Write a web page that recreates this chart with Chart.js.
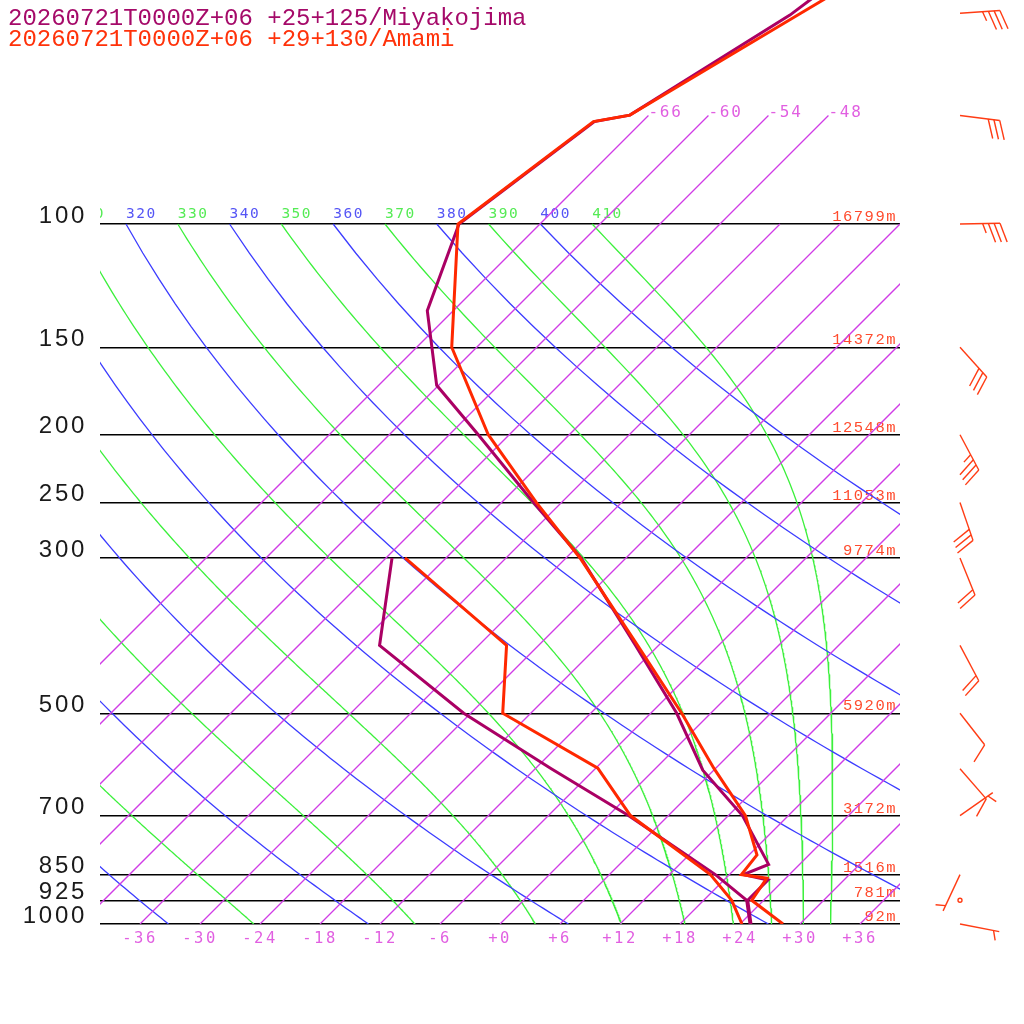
<!DOCTYPE html>
<html>
<head>
<meta charset="utf-8">
<script src="https://cdn.jsdelivr.net/npm/chart.js@4.4.1/dist/chart.umd.min.js"></script>
<style>
html,body{margin:0;padding:0;background:#fff;}
#wrap{position:relative;width:1024px;height:1024px;overflow:hidden;background:#fff;}
#c{position:absolute;left:0;top:0;}
.title{position:absolute;left:8px;font-family:"Liberation Mono",monospace;font-size:24px;line-height:24px;white-space:pre;}
</style>
</head>
<body>
<div id="wrap">
<canvas id="c" width="1024" height="1024"></canvas>
<div class="title" style="top:7px;color:rgb(165,10,105)">20260721T0000Z+06 +25+125/Miyakojima</div>
<div class="title" style="top:28px;color:rgb(255,50,10)">20260721T0000Z+06 +29+130/Amami</div>
</div>
<script>
// ---------------- data ----------------
const pressureTicks = [100, 150, 200, 250, 300, 500, 700, 850, 925, 1000];
const heightLabels = ['16799m', '14372m', '12548m', '11053m', '9774m', '5920m', '3172m', '1516m', '781m', '92m'];
const tempTicks = [-36, -30, -24, -18, -12, -6, 0, 6, 12, 18, 24, 30, 36];
const isothermTemps = [-66, -60, -54, -48, -42, -36, -30, -24, -18, -12, -6, 0, 6, 12, 18, 24, 30, 36];
const isothermLabelTemps = [-66, -60, -54, -48];
const dryThetas = [240, 260, 280, 300, 320, 340, 360, 380, 400];
const moistThetas = [250, 270, 290, 310, 330, 350, 370, 390, 410];
const thetaLabels = [300, 310, 320, 330, 340, 350, 360, 370, 380, 390, 400, 410];

// Miyakojima (purple)
const miyakoP  = [1000, 925, 865, 850, 822, 700, 603, 500, 400, 300, 250, 200, 170, 133, 100, 71.4, 69.9, 50.3, 30];
const miyakoT  = [25.1, 22.4, 22.4, 19.4, 20.9, 13.4, 4.9, -3.4, -14.3, -28.5, -38.8, -51.1, -60.2, -68.6, -74.1, -70.8, -67.9, -61.9, -56.7];
const miyakoTdP = [1000, 925, 850, 700, 600, 500, 400, 300];
const miyakoTd  = [25.0, 22.3, 16.6, 2.0, -10.4, -24.7, -39.9, -47.4];

// Amami (red)
const amamiP  = [1000, 925, 860, 850, 797, 700, 599, 500, 400, 300, 250, 200, 150, 100, 71.4, 69.9, 50, 30];
const amamiT  = [28.3, 22.8, 22.1, 19.2, 18.8, 13.7, 5.8, -2.9, -14.1, -28.6, -38.5, -50.1, -62.5, -74.2, -70.9, -67.9, -61.0, -50.5];
const amamiTdP = [1000, 925, 850, 700, 599, 500, 400, 300];
const amamiTd  = [24.2, 20.8, 16.1, 2.2, -5.8, -20.8, -27.2, -46.1];

// Amami winds
const windP   = [50, 70, 100, 150, 200, 250, 300, 400, 500, 600, 700, 850, 925, 1000];
const windDir = [86, 97, 89, 138, 152, 161, 158, 152, 142, 139, 55, 205, 0, 101];
const windSpd = [35, 30, 35, 30, 35, 30, 20, 20, 10, 10, 5, 5, 0, 5];

// ---------------- physics / skew ----------------
const SKEW = 70;             // degrees of x shift per decade of pressure
const KAPPA = 0.2857;
const Rd = 287.04, CP = 1005.7, LV = 2.501e6, EPS = 0.622;
const P_TOP = 1000 * Math.pow(10, -924 / 700);

function skewX(t, p) { return t + SKEW * Math.log10(1000 / p); }
function pt(t, p) { return { x: skewX(t, p), y: p }; }

function satMix(T, p) {
  const tc = T - 273.15;
  const es = 6.112 * Math.exp(17.67 * tc / (tc + 243.5));
  return EPS * es / (p - es);
}
function moistLapse(T, p) {
  const rs = satMix(T, p);
  return (Rd * T + LV * rs) / (p * (CP + LV * LV * rs * EPS / (Rd * T * T)));
}
function dryLine(theta) {
  const out = [];
  for (let p = 100; p <= 1000.001; p += 10) out.push(pt(theta * Math.pow(p / 1000, KAPPA) - 273.15, p));
  return out;
}
function moistLine(theta) {
  let p = 100, T = theta * Math.pow(0.1, KAPPA);
  const out = [pt(T - 273.15, p)];
  const h = 2.5;
  while (p < 1000 - 1e-9) {
    const k1 = moistLapse(T, p);
    const k2 = moistLapse(T + h * k1 / 2, p + h / 2);
    const k3 = moistLapse(T + h * k2 / 2, p + h / 2);
    const k4 = moistLapse(T + h * k3, p + h);
    T += h * (k1 + 2 * k2 + 2 * k3 + k4) / 6;
    p += h;
    out.push(pt(T - 273.15, p));
  }
  return out;
}

// ---------------- styles ----------------
const RED = 'rgb(255,40,0)';
const PURPLE = 'rgb(170,0,100)';
const ISO_C = 'rgb(208,60,230)';
const DRY_C = 'rgb(60,60,255)';
const MOIST_C = 'rgb(60,240,60)';
const GRID_W = 1.3;

const base = { showLine: true, pointRadius: 0, pointHoverRadius: 0, fill: false, tension: 0, clip: 0 };
const datasets = [];

datasets.push(Object.assign({}, base, { label: 'Amami T', data: amamiT.map((t, i) => pt(t, amamiP[i])), borderColor: RED, borderWidth: 3, order: 0 }));
datasets.push(Object.assign({}, base, { label: 'Amami Td', data: amamiTd.map((t, i) => pt(t, amamiTdP[i])), borderColor: RED, borderWidth: 3, order: 0 }));
datasets.push(Object.assign({}, base, { label: 'Miyakojima T', data: miyakoT.map((t, i) => pt(t, miyakoP[i])), borderColor: PURPLE, borderWidth: 3, order: 1 }));
datasets.push(Object.assign({}, base, { label: 'Miyakojima Td', data: miyakoTd.map((t, i) => pt(t, miyakoTdP[i])), borderColor: PURPLE, borderWidth: 3, order: 1 }));

isothermTemps.forEach(t => {
  const top = isothermLabelTemps.includes(t) ? 70 : 100;
  datasets.push(Object.assign({}, base, { label: 'T' + t, data: [pt(t, 1000), pt(t, top)], borderColor: ISO_C, borderWidth: GRID_W, order: 10 }));
});
dryThetas.forEach(th => {
  datasets.push(Object.assign({}, base, { label: 'th' + th, data: dryLine(th), borderColor: DRY_C, borderWidth: GRID_W, order: 10 }));
});
moistThetas.forEach(th => {
  datasets.push(Object.assign({}, base, { label: 'the' + th, data: moistLine(th), borderColor: MOIST_C, borderWidth: GRID_W, order: 10 }));
});

// ---------------- plugins ----------------
function drawBarb(ctx, x0, y0, dir, spd) {
  if (spd < 2.5) {
    ctx.beginPath(); ctx.arc(x0, y0, 2, 0, Math.PI * 2); ctx.stroke();
    return;
  }
  const r = dir * Math.PI / 180;
  const ux = Math.sin(r), uy = -Math.cos(r);
  const L = 40, sp = 5.8, fl = 20;
  const tx = x0 + ux * L, ty = y0 + uy * L;
  ctx.beginPath(); ctx.moveTo(x0, y0); ctx.lineTo(tx, ty); ctx.stroke();
  const a = 70 * Math.PI / 180;
  const bx = ux * Math.cos(a) - uy * Math.sin(a);
  const by = ux * Math.sin(a) + uy * Math.cos(a);
  let n10 = Math.floor(spd / 10);
  let n5 = Math.round((spd - n10 * 10) / 5);
  let pos = (n10 === 0) ? 1 : 0;
  for (let i = 0; i < n10; i++, pos++) {
    const sx = tx - ux * sp * pos, sy = ty - uy * sp * pos;
    ctx.beginPath(); ctx.moveTo(sx, sy); ctx.lineTo(sx + bx * fl, sy + by * fl); ctx.stroke();
  }
  if (n5) {
    const sx = tx - ux * sp * pos, sy = ty - uy * sp * pos;
    ctx.beginPath(); ctx.moveTo(sx, sy); ctx.lineTo(sx + bx * fl / 2, sy + by * fl / 2); ctx.stroke();
  }
}

// give a scale its own letter spacing for its tick labels
function spaceLabels(s, spacing) {
  if (s.__spaced) return;
  const orig = s.drawLabels;
  s.drawLabels = function (ca) {
    const prev = this.ctx.letterSpacing;
    this.ctx.letterSpacing = spacing;
    orig.call(this, ca);
    this.ctx.letterSpacing = prev || '0px';
  };
  s.__spaced = true;
}

const labelPlugin = {
  id: 'skewLabels',
  beforeDatasetsDraw(chart) {
    const ctx = chart.ctx, xs = chart.scales.x, ys = chart.scales.y, ca = chart.chartArea;
    ctx.save();
    ctx.beginPath(); ctx.rect(ca.left, ca.top, ca.right - ca.left, ca.bottom - ca.top); ctx.clip();
    ctx.textBaseline = 'alphabetic';
    // theta labels at 100 hPa
    ctx.font = '14.5px "DejaVu Sans Mono"';
    ctx.letterSpacing = '1.5px';
    ctx.textAlign = 'left';
    thetaLabels.forEach(th => {
      const x = xs.getPixelForValue(skewX(th * Math.pow(0.1, KAPPA) - 273.15, 100));
      const y = ys.getPixelForValue(100) - 6;
      ctx.fillStyle = dryThetas.includes(th) ? 'rgb(85,85,245)' : 'rgb(85,235,85)';
      ctx.fillText(String(th), x, y);
    });
    // isotherm labels at 70 hPa
    ctx.font = '16px "DejaVu Sans Mono"';
    ctx.letterSpacing = '1.8px';
    ctx.fillStyle = 'rgb(225,95,225)';
    isothermLabelTemps.forEach(t => {
      const x = xs.getPixelForValue(skewX(t, 70));
      const y = ys.getPixelForValue(70) + 1.5;
      ctx.fillText(String(t), x, y);
    });
    // height labels
    ctx.font = '15.5px "Liberation Mono"';
    ctx.letterSpacing = '1.5px';
    ctx.textAlign = 'right';
    ctx.fillStyle = 'rgb(255,75,45)';
    pressureTicks.forEach((p, i) => {
      ctx.fillText(heightLabels[i], ca.right - 3, ys.getPixelForValue(p) - 3);
    });
    ctx.restore();
    ctx.letterSpacing = '0px';
  },
  afterDraw(chart) {
    const ctx = chart.ctx, ys = chart.scales.y, ca = chart.chartArea;
    ctx.save();
    ctx.letterSpacing = '0px';
    ctx.strokeStyle = 'rgb(255,60,20)';
    ctx.lineWidth = 1.4;
    windP.forEach((p, i) => drawBarb(ctx, ca.right + 60, ys.getPixelForValue(p), windDir[i], windSpd[i]));
    ctx.restore();
  }
};

new Chart(document.getElementById('c'), {
  type: 'scatter',
  data: { datasets },
  options: {
    responsive: false,
    animation: false,
    devicePixelRatio: 1,
    layout: { padding: { left: 0, right: 124, top: 0, bottom: 0 } },
    plugins: { legend: { display: false }, tooltip: { enabled: false }, title: { display: false } },
    events: [],
    scales: {
      x: {
        type: 'linear', min: -40, max: 40,
        afterBuildTicks: s => { s.ticks = tempTicks.map(v => ({ value: v })); },
        afterFit: s => { s.height = 100; s.paddingLeft = 0; s.paddingRight = 0; spaceLabels(s, '2.5px'); },
        grid: { display: false, drawTicks: false },
        border: { display: false },
        ticks: {
          autoSkip: false, maxRotation: 0, minRotation: 0, padding: 6,
          color: 'rgb(225,95,225)', font: { family: 'DejaVu Sans Mono', size: 15.5 },
          callback: v => (v >= 0 ? '+' : '') + v
        }
      },
      y: {
        type: 'logarithmic', reverse: true, min: P_TOP, max: 1000,
        afterBuildTicks: s => { s.ticks = pressureTicks.map(v => ({ value: v })); },
        afterFit: s => { s.width = 100; s.paddingTop = 0; s.paddingBottom = 0; spaceLabels(s, '2.7px'); },
        grid: { color: '#000', lineWidth: 1.4, drawTicks: false },
        border: { display: false },
        ticks: {
          autoSkip: false, padding: 13, labelOffset: -8,
          color: '#1a1a1a', font: { family: 'Liberation Sans', size: 24 },
          callback: v => String(v)
        }
      }
    }
  },
  plugins: [labelPlugin]
});
</script>
</body>
</html>
